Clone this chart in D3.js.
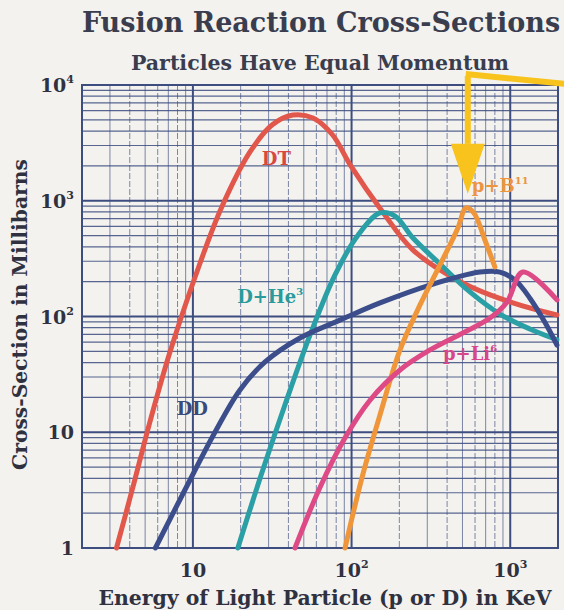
<!DOCTYPE html>
<html>
<head>
<meta charset="utf-8">
<script src="https://cdn.jsdelivr.net/npm/d3@7"></script>
<style>
  body { margin: 0; background: #f3f2ee; }
  svg { display: block; }
  text { font-family: "DejaVu Serif", "Liberation Serif", serif; font-weight: bold; }
</style>
</head>
<body>
<svg id="chart" width="564" height="610"></svg>
<script>
// energy of light particle (keV) vs cross-section (millibarns)
const dt = [[3.3,1],[4.19,3.37],[5.36,12.3],[7.17,49.3],[11.1,290],[15.2,883],[22.9,2640],[31.5,4510],[42.6,5500],[57.2,5190],[76,3700],[98,2040],[157,800],[244,375],[502,195],[1040,131],[1970,103]];
const dhe3 = [[19.2,1],[26.5,4],[38,17.2],[54.7,69],[78.5,228],[110,506],[151,784],[188,738],[244,476],[361,284],[557,163],[861,105],[1330,78],[1970,63]];
const dd = [[5.8,1],[8.9,3.17],[13.8,10.05],[19.8,23.2],[28.5,40.5],[47.3,65.2],[84.5,93],[151,131],[312,187],[644,242],[861,242],[1070,207],[1330,144],[1650,89.6],[1970,56.7]];
const pb11 = [[91,1],[116,4],[151,14.1],[202,51.4],[270,126],[361,279],[468,582],[526,866],[590,784],[692,458],[800,268]];
const pli6 = [[44,1],[63,3.3],[90.8,8.9],[131,19],[202,34.5],[312,51.4],[502,72],[745,97],[953,133],[1200,242],[1970,139]];

const series = [
  { name: "DT", data: dt, color: "#e2574c" },
  { name: "D+He3", data: dhe3, color: "#2a9fa5" },
  { name: "DD", data: dd, color: "#3b4d8a" },
  { name: "p+B11", data: pb11, color: "#f0963a" },
  { name: "p+Li6", data: pli6, color: "#dd4a86" }
];

// curve labels: text, superscript, keV, mb (start of text baseline), colour
const curveLabels = [
  ["DT", "", 27.2, 2040, "#d9483f"],
  ["D+He", "3", 19, 131, "#2a9a9c"],
  ["DD", "", 7.9, 14.1, "#3a4a7a"],
  ["p+B", "11", 573, 1190, "#ec9440"],
  ["p+Li", "6", 377, 42, "#d8458a"]
];

const yTicks = [1, 10, 100, 1000, 10000];
const yTickLabels = [["1",""],["10",""],["10","2"],["10","3"],["10","4"]];
const xTicks = [10, 100, 1000];
const xTickLabels = [["10",""],["10","2"],["10","3"]];

const svg = d3.select("#chart");
const margin = { top: 85, right: 6, bottom: 62, left: 82 };
const width = +svg.attr("width") - margin.left - margin.right;
const height = +svg.attr("height") - margin.top - margin.bottom;

const x = d3.scaleLog().domain([2, 2000]).range([margin.left, margin.left + width]);
const y = d3.scaleLog().domain([1, 10000]).range([margin.top + height, margin.top]);

const gridColor = "#3d4d80";

// minor grid values
const xMinor = [];
for (const dec of [1, 10, 100, 1000]) {
  for (let k = 1; k < 10; k++) {
    const v = k * dec;
    if (v > 2 && v < 2000) xMinor.push(v);
  }
}
const yMinor = [];
for (const dec of [1, 10, 100, 1000]) {
  for (let k = 2; k < 10; k++) yMinor.push(k * dec);
}

const grid = svg.append("g");

grid.selectAll("line.hx")
  .data(yMinor)
  .join("line")
  .attr("x1", margin.left).attr("x2", margin.left + width)
  .attr("y1", d => y(d)).attr("y2", d => y(d))
  .attr("stroke", gridColor).attr("stroke-width", 1.2).attr("opacity", 0.85);

grid.selectAll("line.vx")
  .data(xMinor.filter(v => !xTicks.includes(v)))
  .join("line")
  .attr("y1", margin.top).attr("y2", margin.top + height)
  .attr("x1", d => x(d)).attr("x2", d => x(d))
  .attr("stroke", gridColor).attr("stroke-width", 1).attr("opacity", 0.65)
  .attr("stroke-dasharray", (d, i) => (i % 2 ? "6,2" : null));

grid.selectAll("line.hmaj")
  .data(yTicks.slice(1, -1))
  .join("line")
  .attr("x1", margin.left).attr("x2", margin.left + width)
  .attr("y1", d => y(d)).attr("y2", d => y(d))
  .attr("stroke", gridColor).attr("stroke-width", 2);

grid.selectAll("line.vmaj")
  .data(xTicks)
  .join("line")
  .attr("y1", margin.top).attr("y2", margin.top + height)
  .attr("x1", d => x(d)).attr("x2", d => x(d))
  .attr("stroke", gridColor).attr("stroke-width", 2);

grid.append("rect")
  .attr("x", margin.left).attr("y", margin.top)
  .attr("width", width).attr("height", height)
  .attr("fill", "none").attr("stroke", gridColor).attr("stroke-width", 2);

// curves
const line = d3.line()
  .x(d => x(d[0]))
  .y(d => y(d[1]))
  .curve(d3.curveCatmullRom.alpha(0.5));

svg.append("g")
  .selectAll("path")
  .data(series)
  .join("path")
  .attr("d", d => line(d.data))
  .attr("fill", "none")
  .attr("stroke", d => d.color)
  .attr("stroke-width", 5)
  .attr("stroke-linecap", "round")
  .attr("stroke-linejoin", "round");

// curve labels
const cl = svg.append("g")
  .selectAll("text")
  .data(curveLabels)
  .join("text")
  .attr("x", d => x(d[2]))
  .attr("y", d => y(d[3]))
  .attr("fill", d => d[4])
  .attr("font-size", 18);
cl.append("tspan").text(d => d[0]);
cl.append("tspan").text(d => d[1]).attr("font-size", 10).attr("dy", -8);

// y tick labels
const yl = svg.append("g")
  .selectAll("text")
  .data(yTicks)
  .join("text")
  .attr("x", margin.left - 8)
  .attr("y", d => y(d) + 7)
  .attr("text-anchor", "end")
  .attr("fill", "#2f3140")
  .attr("font-size", 19);
yl.append("tspan").text((d, i) => yTickLabels[i][0]);
yl.append("tspan").text((d, i) => yTickLabels[i][1]).attr("font-size", 11).attr("dy", -9);

// x tick labels
const xl = svg.append("g")
  .selectAll("text")
  .data(xTicks)
  .join("text")
  .attr("x", d => x(d))
  .attr("y", margin.top + height + 29)
  .attr("text-anchor", "middle")
  .attr("fill", "#2f3140")
  .attr("font-size", 19);
xl.append("tspan").text((d, i) => xTickLabels[i][0]);
xl.append("tspan").text((d, i) => xTickLabels[i][1]).attr("font-size", 11).attr("dy", -9);

// titles
svg.append("text")
  .attr("x", 321).attr("y", 32)
  .attr("text-anchor", "middle")
  .attr("fill", "#3a3d4e")
  .attr("font-size", 27)
  .text("Fusion Reaction Cross-Sections");

svg.append("text")
  .attr("x", 320).attr("y", 70)
  .attr("text-anchor", "middle")
  .attr("fill", "#3a3d4e")
  .attr("font-size", 20.5)
  .text("Particles Have Equal Momentum");

svg.append("text")
  .attr("x", 325).attr("y", 605)
  .attr("text-anchor", "middle")
  .attr("fill", "#2f3140")
  .attr("font-size", 20.4)
  .text("Energy of Light Particle (p or D) in KeV");

svg.append("text")
  .attr("transform", `translate(27, ${(margin.top + margin.top + height) / 2 - 2}) rotate(-90)`)
  .attr("text-anchor", "middle")
  .attr("fill", "#2f3140")
  .attr("font-size", 20.3)
  .text("Cross-Section in Millibarns");

// yellow arrow pointing at the p+B11 peak
const ax = x(540);
const gold = "#f7c31c";
svg.append("line")
  .attr("x1", ax - 2).attr("y1", margin.top - 11)
  .attr("x2", 566).attr("y2", margin.top - 1)
  .attr("stroke", gold).attr("stroke-width", 6);
svg.append("line")
  .attr("x1", ax).attr("y1", margin.top - 9)
  .attr("x2", ax).attr("y2", y(3100))
  .attr("stroke", gold).attr("stroke-width", 6);
svg.append("path")
  .attr("d", `M${ax - 17},${y(3100)} L${ax + 17},${y(3100)} L${ax},${y(1150)} Z`)
  .attr("fill", gold);
</script>
</body>
</html>
